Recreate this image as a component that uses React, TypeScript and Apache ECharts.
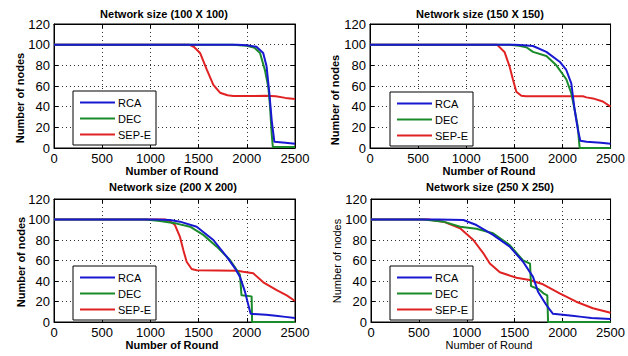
import React, { useEffect, useRef } from "react";
import * as echarts from "echarts";

// ---- data (round, number of nodes) ----
const titles = [
  "Network size (100 X 100)",
  "Network size (150 X 150)",
  "Network size (200 X 200)",
  "Network size (250 X 250)",
];
const seriesNames = ["RCA", "DEC", "SEP-E"];
const xTicks = [0, 500, 1000, 1500, 2000, 2500];
const yTicks = [0, 20, 40, 60, 80, 100, 120];

const rca1 = [[0,100],[1900,100],[2000,99.5],[2100,98],[2170,92],[2205,79],[2234,53],[2258,27],[2286,6],[2400,5],[2500,4]];
const dec1 = [[0,100],[1850,100],[2000,99],[2080,97],[2137,92],[2189,75],[2223,59],[2241,40],[2258,14],[2270,1],[2500,1]];
const sep1 = [[0,100],[1400,100],[1450,98],[1515,92],[1584,76],[1653,61],[1722,53.5],[1800,51],[1860,50.3],[2200,50.5],[2300,50],[2400,48.5],[2500,47.4]];

const rca2 = [[0,100],[1500,100],[1600,99.5],[1694,98.7],[1833,93],[1971,83.5],[2040,75.5],[2092,62.6],[2127,37],[2161,17.4],[2186,7],[2250,6],[2400,5],[2500,4]];
const dec2 = [[0,100],[1450,100],[1550,99],[1625,97.5],[1694,93],[1833,89],[1937,80],[2040,66.5],[2092,53],[2127,37],[2161,20],[2171,8],[2179,0],[2500,0]];
const sep2 = [[0,100],[1320,100],[1349,97.4],[1400,92.6],[1452,78.5],[1487,65.8],[1521,54.5],[1573,50.6],[1620,50],[2213,50],[2250,49],[2317,48],[2420,45],[2500,40]];

const rca3 = [[0,100],[1050,100],[1203,99.5],[1307,97.9],[1480,93],[1653,80],[1791,63.7],[1878,52.4],[1929,44],[1981,29.6],[2016,16.6],[2040,8],[2200,7],[2300,6],[2400,5],[2500,4]];
const dec3 = [[0,100],[950,100],[1100,98.5],[1272,96],[1411,93],[1549,85],[1688,73.5],[1826,60.5],[1929,46],[1945,26],[2050,25],[2055,0],[2500,0]];
const sep3 = [[0,100],[1150,100],[1200,98.5],[1255,94.6],[1307,83],[1342,70],[1376,58.8],[1428,51.7],[1480,50.4],[1900,50],[1964,49],[2067,47.5],[2171,38.7],[2310,31],[2414,26],[2500,20.5]];

const rca4 = [[0,100],[700,100],[964,99.5],[1100,94.6],[1274,85],[1448,73.5],[1587,58.8],[1691,44],[1743,29.6],[1830,16.6],[1899,8],[2000,7],[2100,6],[2200,5],[2300,4],[2500,3]];
const dec4 = [[0,100],[550,100],[756,97.9],[930,93],[1100,91],[1274,86.6],[1448,75],[1587,60],[1660,57],[1670,35],[1750,32],[1800,28],[1840,26],[1848,0],[2500,0]];
const sep4 = [[0,100],[600,100],[756,97.9],[930,91.4],[1068,80],[1173,67],[1240,57],[1345,48.5],[1518,43.2],[1656,41],[1795,36.8],[1969,28],[2142,19.8],[2316,13.4],[2500,9]];

const panelData = [
  [rca1, dec1, sep1],
  [rca2, dec2, sep2],
  [rca3, dec3, sep3],
  [rca4, dec4, sep4],
];

// ---- layout / style ----
const FONT = "'Liberation Sans', Arial, sans-serif";
const colors = ["#1818d0", "#1a8a2a", "#e02222"];
const grids = [
  { left: 54, top: 24, width: 241, height: 124 },
  { left: 370, top: 24, width: 241, height: 124 },
  { left: 54, top: 199, width: 241, height: 123 },
  { left: 371, top: 199, width: 240, height: 123 },
];
const titlePos = [[164, 14], [480, 14], [173, 187], [490, 187]];
const xNamePos = [[172, 171], [489, 171], [172, 345], [489, 345]];
const yNamePos = [[20, 98], [335, 100], [21, 262], [337, 261]];
const legendPos = [[73, 91], [390, 92], [73, 266], [390, 266]];
const boldLabels = [true, true, true, false];

export default function App() {
  const ref = useRef<HTMLDivElement>(null);
  useEffect(() => {
    if (!ref.current) return;
    const chart = echarts.init(ref.current, undefined, { renderer: "svg" });
    const series: any[] = [];
    panelData.forEach((arr, p) => {
      arr.forEach((d, s) => {
        series.push({
          type: "line",
          name: seriesNames[s],
          xAxisIndex: p,
          yAxisIndex: p,
          data: d,
          symbol: "none",
          showSymbol: false,
          lineStyle: { color: colors[s], width: 2 },
          itemStyle: { color: colors[s] },
          z: 3 - s,
        });
      });
    });
    const graphic: any[] = [];
    titles.forEach((t, p) => {
      graphic.push({
        type: "text",
        x: titlePos[p][0],
        y: titlePos[p][1],
        style: { text: t, font: `bold 11px ${FONT}`, fill: "#000", textAlign: "center", textVerticalAlign: "middle" },
      });
      graphic.push({
        type: "text",
        x: xNamePos[p][0],
        y: xNamePos[p][1],
        style: { text: "Number of Round", font: `${boldLabels[p] ? "bold " : ""}11px ${FONT}`, fill: "#000", textAlign: "center", textVerticalAlign: "middle" },
      });
      graphic.push({
        type: "text",
        x: yNamePos[p][0],
        y: yNamePos[p][1],
        rotation: Math.PI / 2,
        style: { text: "Number of nodes", font: `${boldLabels[p] ? "bold " : ""}11px ${FONT}`, fill: "#000", textAlign: "center", textVerticalAlign: "middle" },
      });
    });

    const mainX = grids.map((_, i) => ({
      type: "value",
      gridIndex: i,
      min: xTicks[0],
      max: xTicks[xTicks.length - 1],
      interval: 500,
      axisLine: { show: true, onZero: false, lineStyle: { color: "#000", width: 1 } },
      axisTick: { show: true, inside: true, length: 4, lineStyle: { color: "#000" } },
      axisLabel: { color: "#000", fontSize: 13, fontFamily: FONT, margin: 4, formatter: (v: number) => String(v) },
      splitLine: { show: true, lineStyle: { color: "#333", type: [1, 3], width: 1 } },
    }));
    const topX = grids.map((_, i) => ({
      type: "value",
      gridIndex: i,
      position: "top",
      min: xTicks[0],
      max: xTicks[xTicks.length - 1],
      interval: 500,
      axisLine: { show: true, onZero: false, lineStyle: { color: "#000", width: 1 } },
      axisTick: { show: true, inside: true, length: 4, lineStyle: { color: "#000" } },
      axisLabel: { show: false },
      splitLine: { show: false },
    }));
    const mainY = grids.map((_, i) => ({
      type: "value",
      gridIndex: i,
      min: yTicks[0],
      max: yTicks[yTicks.length - 1],
      interval: 20,
      axisLine: { show: true, onZero: false, lineStyle: { color: "#000", width: 1 } },
      axisTick: { show: true, inside: true, length: 4, lineStyle: { color: "#000" } },
      axisLabel: { color: "#000", fontSize: 13, fontFamily: FONT, margin: 4, formatter: (v: number) => String(v) },
      splitLine: { show: true, lineStyle: { color: "#333", type: [1, 3], width: 1 } },
    }));
    const rightY = grids.map((_, i) => ({
      type: "value",
      gridIndex: i,
      position: "right",
      min: yTicks[0],
      max: yTicks[yTicks.length - 1],
      interval: 20,
      axisLine: { show: true, onZero: false, lineStyle: { color: "#000", width: 1 } },
      axisTick: { show: true, inside: true, length: 4, lineStyle: { color: "#000" } },
      axisLabel: { show: false },
      splitLine: { show: false },
    }));

    const option: any = {
      animation: false,
      backgroundColor: "#fff",
      grid: grids.map((g) => ({ ...g, show: true, borderColor: "#000", borderWidth: 1, backgroundColor: "#fff", containLabel: false })),
      xAxis: [...mainX, ...topX],
      yAxis: [...mainY, ...rightY],
      legend: legendPos.map((lp) => ({
        left: lp[0],
        top: lp[1],
        orient: "vertical",
        data: seriesNames.map((n) => ({ name: n, icon: "rect" })),
        itemWidth: 35,
        itemHeight: 2,
        itemGap: 3,
        padding: [5, 5, 4, 7],
        backgroundColor: "#fff",
        borderColor: "#000",
        borderWidth: 1,
        borderRadius: 0,
        selectedMode: false,
        textStyle: { color: "#000", fontSize: 11, fontFamily: FONT, padding: [0, 0, 0, -2], lineHeight: 13 },
      })),
      graphic,
      series,
    };
    chart.setOption(option);
    return () => chart.dispose();
  }, []);
  return (
    <div
      ref={ref}
      style={{ position: "fixed", left: 0, top: 0, width: 628, height: 356, background: "#fff" }}
    />
  );
}
